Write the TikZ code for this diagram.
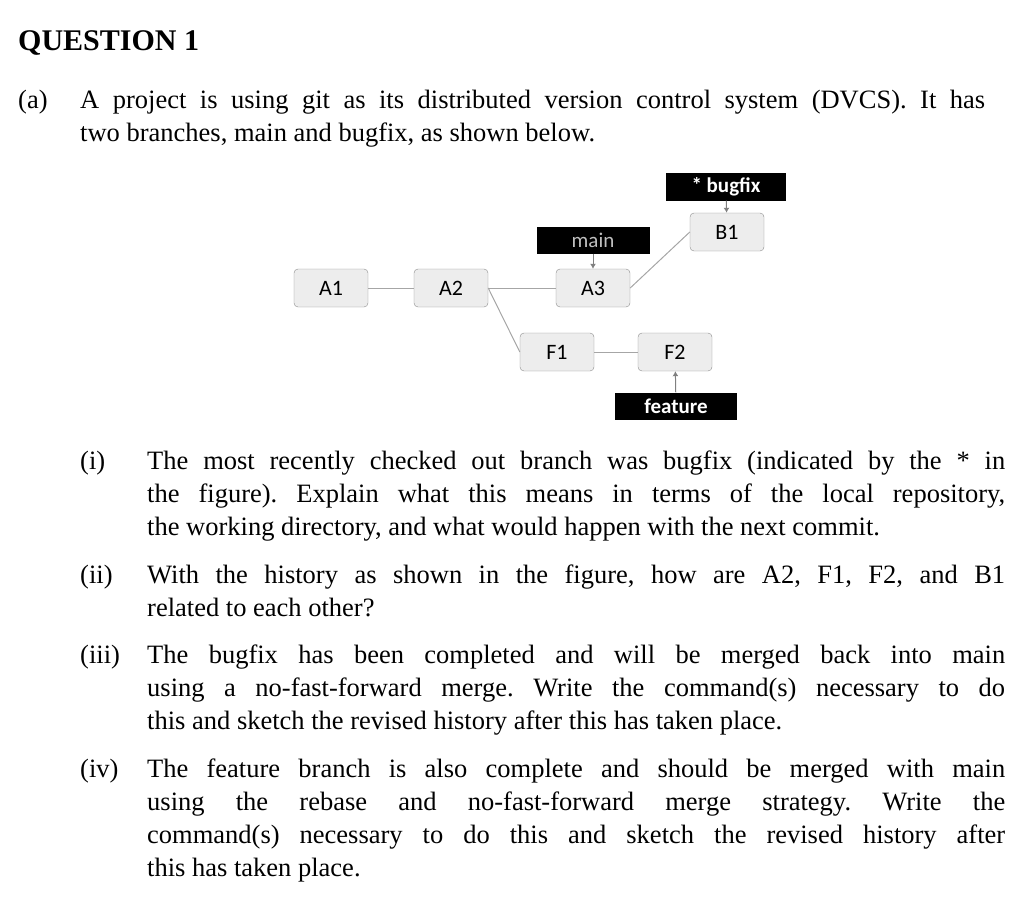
\documentclass[tikz,border=0pt]{standalone}
\usepackage{fontspec}
\usetikzlibrary{arrows.meta}
\setmainfont{Liberation Serif}
\newfontfamily\calfont{Carlito}
\frenchspacing
\begin{document}
\begin{tikzpicture}[x=1pt,y=-1pt,
 commit/.style={draw=black!45,fill=black!7,rounded corners=4pt,minimum width=74pt,minimum height=38pt,font=\calfont\fontsize{22}{24}\selectfont,inner sep=0pt},
 lbl/.style={fill=black,text=white,minimum height=27pt,inner sep=0pt,font=\calfont\fontsize{21}{24}\selectfont},
 edge/.style={draw=black!35,line width=1pt},
 ptr/.style={draw=black!50,line width=1pt,-{Latex[length=5pt,width=6pt]}},
 body/.style={anchor=north west,inner sep=0pt,align=justify,font=\fontsize{26.5}{33}\selectfont}]
\useasboundingbox (0,0) rectangle (1024,904);
\node[anchor=west,inner sep=0pt,font=\bfseries\fontsize{30}{32}\selectfont] (q) at (18,43) {QUESTION 1};
\node[anchor=north west,inner sep=0pt,font=\fontsize{26.5}{33}\selectfont] (a) at (18,90) {(a)};
\node[body,text width=905pt] (ta) at (80,90) {A project is using git as its distributed version control system (DVCS). It has\linebreak two branches, main and bugfix, as shown below.};
\node[commit] (A1) at (331,288) {A1};
\node[commit] (A2) at (451,288) {A2};
\node[commit] (A3) at (593,288) {A3};
\node[commit] (F1) at (557,352) {F1};
\node[commit] (F2) at (675,352) {F2};
\node[commit] (B1) at (727,232) {B1};
\node[lbl,minimum width=113pt,text=black!25] (main) at (593,240) {main};
\node[lbl,minimum width=120pt,font=\calfont\bfseries\fontsize{21}{24}\selectfont] (bug) at (726,187) {* bugfix};
\node[lbl,minimum width=122pt,font=\calfont\bfseries\fontsize{21}{24}\selectfont] (feat) at (676,406) {feature};
\draw[edge] (A1) -- (A2);
\draw[edge] (A2) -- (A3);
\draw[edge] (A2.east) -- (F1.west);
\draw[edge] (F1) -- (F2);
\draw[edge] (A3.east) -- (B1.west);
\draw[ptr] (main) -- (A3);
\draw[ptr] (bug) -- (B1);
\draw[ptr] (feat) -- (F2);
\foreach \n/\y/\t in {
 i/451/{The most recently checked out branch was bugfix (indicated by the * in\linebreak the figure). Explain what this means in terms of the local repository,\linebreak the working directory, and what would happen with the next commit.},
 ii/565/{With the history as shown in the figure, how are A2, F1, F2, and B1\linebreak related to each other?},
 iii/645/{The bugfix has been completed and will be merged back into main\linebreak using a no-fast-forward merge. Write the command(s) necessary to do\linebreak this and sketch the revised history after this has taken place.},
 iv/759/{The feature branch is also complete and should be merged with main\linebreak using the rebase and no-fast-forward merge strategy. Write the\linebreak command(s) necessary to do this and sketch the revised history after\linebreak this has taken place.}}
{
 \node[anchor=north west,inner sep=0pt,font=\fontsize{26.5}{33}\selectfont] (n\n) at (80,\y) {(\n)};
 \node[body,text width=858pt] (t\n) at (147,\y) {\t};
}
\end{tikzpicture}
\end{document}
